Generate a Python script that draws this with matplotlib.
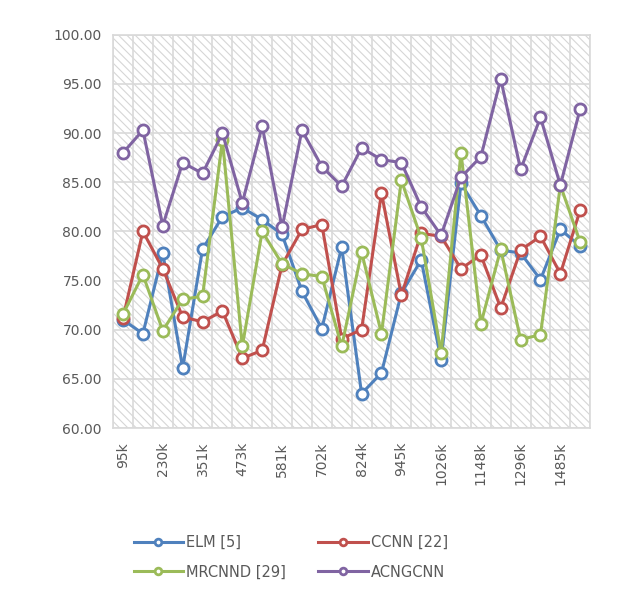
import matplotlib.pyplot as plt
import numpy as np
from matplotlib.patches import Rectangle

# tick labels that are shown (every other category)
shown_labels = ['95k', '230k', '351k', '473k', '581k', '702k',
                '824k', '945k', '1026k', '1148k', '1296k', '1485k']

elm = [71.0, 69.6, 77.8, 66.1, 78.2, 81.5, 82.4, 81.2, 79.7, 73.9, 70.1, 78.4,
       63.5, 65.6, 73.7, 77.1, 66.9, 84.9, 81.6, 78.1, 77.8, 75.1, 80.2, 78.5]
ccnn = [71.2, 80.0, 76.2, 71.3, 70.8, 71.9, 67.1, 67.9, 76.6, 80.2, 80.7, 69.1,
        70.0, 83.9, 73.5, 79.8, 79.5, 76.2, 77.6, 72.2, 78.1, 79.5, 75.7, 82.2]
mrcnnd = [71.6, 75.6, 69.9, 73.1, 73.4, 89.3, 68.3, 80.0, 76.7, 75.7, 75.4, 68.3,
          77.9, 69.6, 85.2, 79.3, 67.6, 88.0, 70.6, 78.2, 69.0, 69.5, 84.7, 78.9]
acngcnn = [88.0, 90.3, 80.6, 87.0, 85.9, 90.0, 82.9, 90.7, 80.4, 90.3, 86.6, 84.6,
           88.5, 87.3, 87.0, 82.5, 79.6, 85.5, 87.6, 95.5, 86.3, 91.6, 84.7, 92.5]

series = [
    ('ELM [5]', elm, '#4F81BD'),
    ('CCNN [22]', ccnn, '#C0504D'),
    ('MRCNND [29]', mrcnnd, '#9BBB59'),
    ('ACNGCNN', acngcnn, '#8064A2'),
]

plt.rcParams['hatch.linewidth'] = 0.8

fig = plt.figure(figsize=(6.18, 6.11), dpi=100)
ax = fig.add_axes([0.183, 0.2995, 0.772, 0.6435])

n = len(elm)
x = np.arange(n)

# hatched background
ax.add_patch(Rectangle((0, 0), 1, 1, transform=ax.transAxes, facecolor='white',
                       edgecolor='#d6d6d6', lw=0, hatch='\\\\\\\\', zorder=0))

handles = {}
for name, vals, col in series:
    h, = ax.plot(x, vals, color=col, lw=2.2, marker='o', ms=8, mfc='white',
                 mec=col, mew=2, label=name, zorder=3)
    handles[name] = h

ax.set_xlim(-0.5, n - 0.5)
ax.set_ylim(60, 100)
ax.set_yticks(np.arange(60, 101, 5))
ax.set_yticklabels(['%.2f' % v for v in np.arange(60, 101, 5)])
ax.set_xticks(x[::2])
ax.set_xticklabels(shown_labels, rotation=90)
ax.set_xticks(np.arange(-0.5, n, 1), minor=True)

ax.grid(True, which='minor', axis='x', color='#d9d9d9', lw=1.2, zorder=1)
ax.grid(True, which='major', axis='y', color='#d9d9d9', lw=1.2, zorder=1)
ax.set_axisbelow(True)
ax.tick_params(which='both', length=0, colors='#595959', labelsize=10)
ax.tick_params(axis='y', pad=8)
ax.tick_params(axis='x', pad=10)
for s in ax.spines.values():
    s.set_color('#d9d9d9')
    s.set_linewidth(1.2)

# Excel fills the legend row by row
order = ['ELM [5]', 'MRCNND [29]', 'CCNN [22]', 'ACNGCNN']
fig.legend([handles[k] for k in order], order, loc='lower left',
           bbox_to_anchor=(0.195, 0.03), ncol=2, frameon=False, fontsize=10.5,
           handlelength=3.4, markerscale=0.6, columnspacing=2.2,
           labelcolor='#595959', handletextpad=0.2, labelspacing=1.0)

fig.savefig('out.png', dpi=100)
